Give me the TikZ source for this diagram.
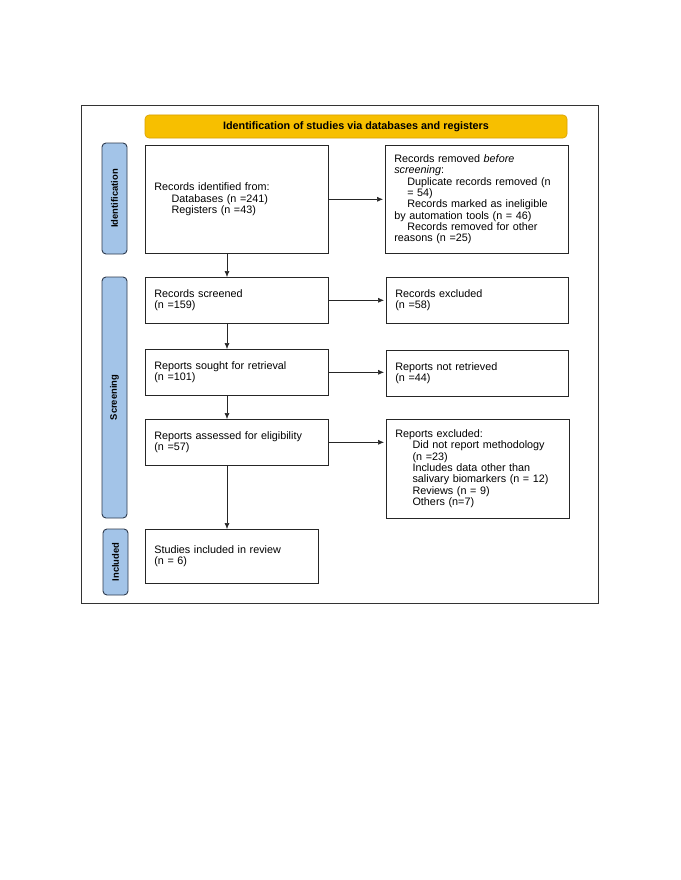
\documentclass[tikz,border=0pt]{standalone}
\usepackage{fontspec}
\setmainfont{Liberation Sans}
\usepackage{xcolor}
\usetikzlibrary{arrows.meta}

\definecolor{bannergold}{HTML}{F7BF00}
\definecolor{bannerline}{HTML}{D9A000}
\definecolor{phaseblue}{HTML}{A3C4E8}
\definecolor{phaseline}{HTML}{2E3B4E}

\begin{document}
\begin{tikzpicture}[
    x=1pt, y=-1pt,
    font=\fontsize{10.8}{11.3}\selectfont,
    box/.style={
      draw=black!85, line width=0.6pt, anchor=north west, align=left,
      inner xsep=9pt, inner ysep=2pt, text width=#1
    },
    box/.default=165pt,
    phase/.style={
      rectangle, rounded corners=4pt, fill=phaseblue, draw=phaseline, line width=0.9pt,
      rotate=90, font=\fontsize{9.4}{11}\selectfont\bfseries,
      minimum height=25pt, minimum width=#1, inner sep=0pt
    },
    banner/.style={
      rectangle, rounded corners=4pt, fill=bannergold, draw=bannerline, line width=0.6pt,
      font=\fontsize{10.8}{12}\selectfont\bfseries, minimum width=422pt, minimum height=23pt
    },
    rel/.style={-{Latex[length=6pt,width=5pt]}, line width=0.6pt, black!85}
  ]
    \useasboundingbox[fill=white] (0,0) rectangle (680,880);
    \draw[black!80, line width=0.7pt] (81,105) rectangle (598,603);

    \node[banner] (banner) at (356,126.5) {Identification of studies via databases and registers};

    \node[phase=111pt] (phaseid) at (114.5,198.5) {Identification};
    \node[phase=241pt] (phasescr) at (114.5,397.5) {Screening};
    \node[phase=66pt] (phaseinc) at (115.5,562) {Included};

    \node[box, minimum height=108pt] (identified) at (145,145) {%
      Records identified from:\\
      \hspace*{1.6em}Databases (n =241)\\
      \hspace*{1.6em}Registers (n =43)
    };
    \node[box, minimum height=108pt] (removed) at (385,145) {%
      Records removed \textit{before}\\
      \textit{screening}:\\
      \hspace*{1.2em}Duplicate records removed (n\\
      \hspace*{1.2em}= 54)\\
      \hspace*{1.2em}Records marked as ineligible\\
      by automation tools (n = 46)\\
      \hspace*{1.2em}Records removed for other\\
      reasons (n =25)
    };
    \node[box, minimum height=46pt] (screened) at (145,277) {%
      Records screened\\
      (n =159)
    };
    \node[box=164pt, minimum height=46pt] (excluded) at (386,277) {%
      Records excluded\\
      (n =58)
    };
    \node[box, minimum height=46pt] (sought) at (145,349) {%
      Reports sought for retrieval\\
      (n =101)
    };
    \node[box=164pt, minimum height=46pt] (notretrieved) at (386,350) {%
      Reports not retrieved\\
      (n =44)
    };
    \node[box, minimum height=46pt] (assessed) at (145,419) {%
      Reports assessed for eligibility\\
      (n =57)
    };
    \node[box, minimum height=99pt] (reportsexcl) at (386,419) {%
      Reports excluded:\\
      \hspace*{1.6em}Did not report methodology\\
      \hspace*{1.6em}(n =23)\\
      \hspace*{1.6em}Includes data other than\\
      \hspace*{1.6em}salivary biomarkers (n = 12)\\
      \hspace*{1.6em}Reviews (n = 9)\\
      \hspace*{1.6em}Others (n=7)
    };
    \node[box=155pt, minimum height=54pt] (included) at (145,529) {%
      Studies included in review\\
      (n = 6)
    };

    \coordinate (spine) at (227,0);
    \draw[rel] (identified.south -| spine) -- (screened.north -| spine);
    \draw[rel] (screened.south -| spine) -- (sought.north -| spine);
    \draw[rel] (sought.south -| spine) -- (assessed.north -| spine);
    \draw[rel] (assessed.south -| spine) -- (included.north -| spine);

    \draw[rel, shorten >=2pt] (identified.east) -- (removed.west);
    \draw[rel, shorten >=2pt] (screened.east) -- (excluded.west);
    \draw[rel, shorten >=2pt] (sought.east) -- (sought.east -| notretrieved.west);
    \draw[rel, shorten >=2pt] (assessed.east) -- (assessed.east -| reportsexcl.west);
  \end{tikzpicture}
\end{document}
